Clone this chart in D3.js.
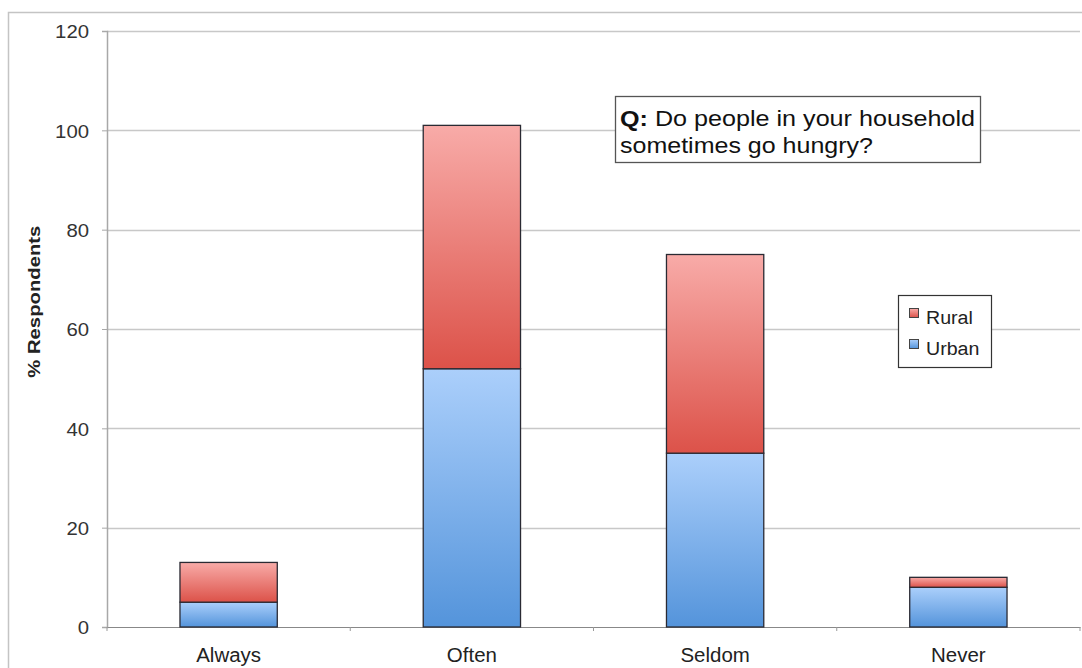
<!DOCTYPE html>
<html>
<head>
<meta charset="utf-8">
<script src="https://cdn.jsdelivr.net/npm/d3@7"></script>
<style>
  html, body { margin: 0; padding: 0; background: #fff; }
  svg { display: block; font-family: "Liberation Sans", Arial, sans-serif; }
</style>
</head>
<body>
<svg id="chart" width="1082" height="668"></svg>
<script>
// Household hunger survey: share of respondents by frequency, urban vs rural
const categories = ["Always", "Often", "Seldom", "Never"];
const urban = [5, 52, 35, 8];
const rural = [8, 49, 40, 2];
const seriesNames = ["Urban", "Rural"];
const yTicks = [0, 20, 40, 60, 80, 100, 120];

const svg = d3.select("#chart");
const W = 1082, H = 668;
const m = { left: 107, right: 2, top: 31, bottom: 41 };
const FONT = "Liberation Sans, Arial, sans-serif";

const x = d3.scaleBand().domain(categories).range([m.left, 1080]).paddingInner(0.6).paddingOuter(0.3);
const band = d3.scaleBand().domain(categories).range([m.left, 1080]).padding(0);
const y = d3.scaleLinear().domain([0, 120]).range([H - m.bottom, m.top]);

// widen glyphs a little, keeping each label's anchor
function stretch(sel, k) {
  sel.each(function () {
    const n = this.getComputedTextLength();
    d3.select(this).attr("textLength", n * k).attr("lengthAdjust", "spacingAndGlyphs");
  });
}

// gradients
const defs = svg.append("defs");
function grad(id, top, bottom) {
  const g = defs.append("linearGradient").attr("id", id)
    .attr("x1", 0).attr("y1", 0).attr("x2", 0).attr("y2", 1);
  g.append("stop").attr("offset", "0%").attr("stop-color", top);
  g.append("stop").attr("offset", "100%").attr("stop-color", bottom);
}
grad("gRural", "#f8aba8", "#dc5249");
grad("gUrban", "#abcffb", "#5494db");

// outer frame
svg.append("path")
  .attr("d", `M${W + 2},12.5 H8.5 V${H + 2}`)
  .attr("fill", "none").attr("stroke", "#c4c4c4").attr("stroke-width", 1.5);

// gridlines
svg.append("g").selectAll("line").data(yTicks.filter(d => d > 0)).join("line")
  .attr("x1", m.left).attr("x2", 1080)
  .attr("y1", d => Math.round(y(d)) + 0.5).attr("y2", d => Math.round(y(d)) + 0.5)
  .attr("stroke", "#c8c8c8").attr("stroke-width", 1.5);

// y axis
const yAxis = svg.append("g").attr("transform", `translate(${m.left},0)`)
  .call(d3.axisLeft(y).tickValues(yTicks).tickSize(5).tickPadding(13));
yAxis.select(".domain").attr("stroke", "#a8a8a8").attr("stroke-width", 1.5);
yAxis.selectAll(".tick line").attr("stroke", "#a8a8a8");
yAxis.selectAll(".tick text").attr("font-size", 19).attr("fill", "#333")
  .attr("font-family", FONT).attr("dy", "0.36em");
stretch(yAxis.selectAll(".tick text"), 1.07);

// x axis
const xAxis = svg.append("g").attr("transform", `translate(0,${y(0)})`)
  .call(d3.axisBottom(band).tickSize(0).tickPadding(20));
xAxis.select(".domain").attr("stroke", "#888").attr("stroke-width", 1.2);
xAxis.selectAll(".tick text").attr("font-size", 19.5).attr("fill", "#222")
  .attr("font-family", FONT).attr("dy", "0.78em");
stretch(xAxis.selectAll(".tick text"), 1.05);
// small tick marks at band boundaries
svg.append("g").selectAll("line")
  .data(categories.map(c => band(c) + band.bandwidth()).concat([band(categories[0])]))
  .join("line")
  .attr("x1", d => d).attr("x2", d => d)
  .attr("y1", y(0)).attr("y2", y(0) + 4)
  .attr("stroke", "#999");

// stacked bars
const rows = categories.map((c, i) => ({ cat: c, Urban: urban[i], Rural: rural[i] }));
const stacked = d3.stack().keys(seriesNames)(rows);
const fills = { Urban: "url(#gUrban)", Rural: "url(#gRural)" };

svg.append("g").selectAll("g").data(stacked).join("g")
  .attr("fill", d => fills[d.key])
  .selectAll("rect").data(d => d).join("rect")
  .attr("x", d => x(d.data.cat))
  .attr("width", x.bandwidth())
  .attr("y", d => y(d[1]))
  .attr("height", d => y(d[0]) - y(d[1]))
  .attr("stroke", "#2a2a33").attr("stroke-width", 1.3);

// y axis title
svg.append("text")
  .attr("transform", `translate(40,${y(65.5)}) rotate(-90)`)
  .attr("text-anchor", "middle")
  .attr("font-size", 17).attr("font-weight", "bold").attr("fill", "#222")
  .attr("textLength", 152).attr("lengthAdjust", "spacingAndGlyphs")
  .text("% Respondents");

// question box
svg.append("rect").attr("x", 615.5).attr("y", 96.5).attr("width", 365).attr("height", 66)
  .attr("fill", "#fff").attr("stroke", "#555").attr("stroke-width", 1.3);
const q = svg.append("text").attr("x", 620).attr("y", 126).attr("font-size", 22).attr("fill", "#111")
  .attr("textLength", 355).attr("lengthAdjust", "spacingAndGlyphs");
q.append("tspan").attr("font-weight", "bold").text("Q:");
q.append("tspan").text(" Do people in your household");
svg.append("text").attr("x", 620).attr("y", 153).attr("font-size", 22).attr("fill", "#111")
  .attr("textLength", 253).attr("lengthAdjust", "spacingAndGlyphs")
  .text("sometimes go hungry?");

// legend
const lg = svg.append("g");
lg.append("rect").attr("x", 898.5).attr("y", 295.5).attr("width", 93).attr("height", 72)
  .attr("fill", "#fff").attr("stroke", "#333").attr("stroke-width", 1.2);
const legendItems = ["Rural", "Urban"];
legendItems.forEach((k, i) => {
  const yy = 313 + i * 31;
  lg.append("rect").attr("x", 909.5).attr("y", yy - 4.5).attr("width", 9).attr("height", 9)
    .attr("fill", fills[k]).attr("stroke", "#444").attr("stroke-width", 1);
  const t = lg.append("text").attr("x", 926).attr("y", yy + 11).attr("font-size", 18).attr("fill", "#222").text(k);
  stretch(t, 1.09);
});
</script>
</body>
</html>
